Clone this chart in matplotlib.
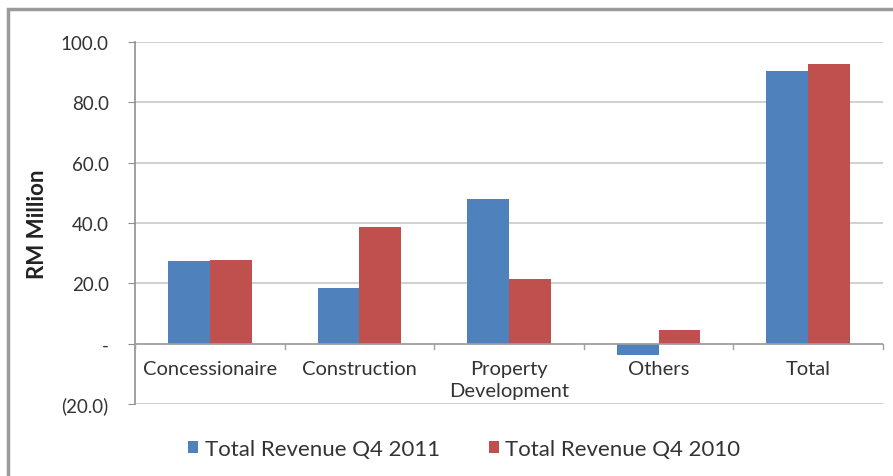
import matplotlib
matplotlib.use("Agg")
import matplotlib.pyplot as plt
import numpy as np
from matplotlib.patches import Rectangle

categories = ["Concessionaire", "Construction", "Property\nDevelopment", "Others", "Total"]
rev_2011 = [27.3, 18.5, 48.1, -3.6, 90.3]
rev_2010 = [27.8, 38.7, 21.5, 4.4, 92.6]
series_names = ["Total Revenue Q4 2011", "Total Revenue Q4 2010"]
yticks = [-20, 0, 20, 40, 60, 80, 100]
ytick_labels = ["(20.0)", "-", "20.0", "40.0", "60.0", "80.0", "100.0"]

plt.rcParams["font.family"] = ["Lato", "DejaVu Sans"]
blue = "#4F81BD"
red = "#C0504D"

fig = plt.figure(figsize=(8.93, 4.77), dpi=100)
ax = fig.add_axes([0.1512, 0.1509, 0.8376, 0.759])

x = np.arange(len(categories))
w = 0.28
ax.bar(x - w / 2, rev_2011, w, color=blue, label=series_names[0], zorder=3)
ax.bar(x + w / 2, rev_2010, w, color=red, label=series_names[1], zorder=3)

ax.set_xlim(-0.5, len(categories) - 0.5)
ax.set_ylim(-20, 100)
ax.set_yticks(yticks)
ax.set_yticklabels(ytick_labels, fontsize=13.5, color="#333333")
ax.yaxis.grid(True, color="#C8C8C8", lw=1.2, zorder=0)
ax.tick_params(axis="y", length=5, color="#909090", pad=14)

# category labels sit just under the zero line
ax.set_xticks([])
for xi, lab in zip(x, categories):
    ax.text(xi, -5.3, lab, ha="center", va="top", fontsize=14.5, color="#333333",
            linespacing=1.4)
# zero axis line with category boundary marks
ax.axhline(0, color="#A0A0A0", lw=1.2, zorder=4)
for b in np.arange(-0.5, len(categories), 1.0):
    ax.plot([b, b], [0, -1.6], color="#A0A0A0", lw=1, clip_on=False, zorder=4)

for s in ["top", "right", "bottom"]:
    ax.spines[s].set_visible(False)
ax.spines["left"].set_color("#909090")
ax.spines["left"].set_linewidth(1.2)

ax.set_ylabel("RM Million", fontsize=16, fontweight="bold", color="#222222", labelpad=9)

ax.legend(loc="center", bbox_to_anchor=(0.44, -0.124), ncol=2, frameon=False,
          fontsize=16, handlelength=0.45, handleheight=0.45, handletextpad=0.3,
          columnspacing=2.2, labelcolor="#333333", borderpad=0)

# outer chart frame
fig.patches.append(Rectangle((0.009, -0.01), 1.2, 0.99, transform=fig.transFigure,
                             fill=False, edgecolor="#9A9A9A", lw=2.5))

fig.savefig("out.png", dpi=100)
